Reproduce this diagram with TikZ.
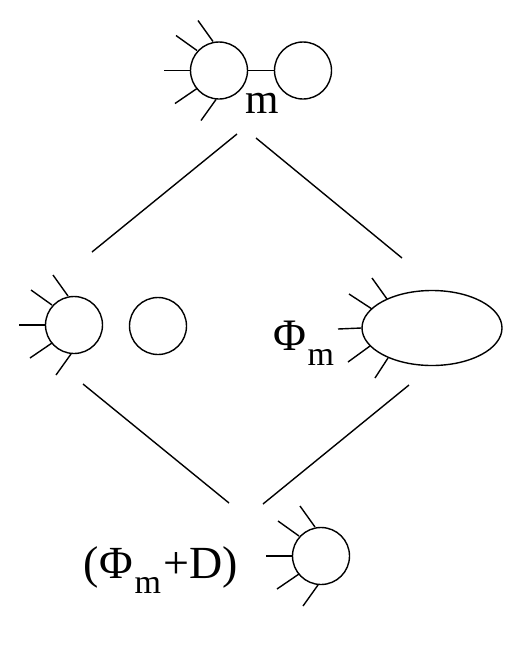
\documentclass[tikz,border=0pt]{standalone}
\usepackage{fontspec}
\setmainfont{Liberation Serif}
\usetikzlibrary{shapes.geometric}
\begin{document}
\begin{tikzpicture}[x=1pt,y=-1pt,line width=1.4pt,
  lbl/.style={inner sep=0pt,anchor=base west,font=\fontsize{45}{52}\selectfont},
  ring/.style={draw,circle,minimum size=57pt,inner sep=0pt},
  leg/.style={line width=1.4pt}]
\useasboundingbox (0,0) rectangle (513,649);
\newcommand{\legsat}[2]{%
  \draw[leg] (#1-29,#2) -- (#1-55,#2);
  \draw[leg] (#1-22,#2-20) -- (#1-43,#2-35);
  \draw[leg] (#1-6,#2-29) -- (#1-21,#2-50);
  \draw[leg] (#1-22,#2+18) -- (#1-44,#2+33);
  \draw[leg] (#1-3,#2+29) -- (#1-18,#2+50);}
\newcommand{\subm}{\raisebox{-15pt}{\fontsize{34}{40}\selectfont m}}
% top
\node[ring] (tl) at (219,70.5) {};
\node[ring] (tr) at (303,70.5) {};
\draw (tl.east) -- (tr.west);
\legsat{219}{70.5}
\node[lbl,font=\fontsize{43}{50}\selectfont] (tm) at (245,113) {m};
% middle left
\node[ring] (ml) at (74,325) {};
\node[ring] (mr) at (158,326) {};
\legsat{74}{325}
% middle right
\node[draw,ellipse,minimum width=140pt,minimum height=75pt,inner sep=0pt] (el) at (432,328) {};
\draw (el.west) -- (338,329);
\draw (372,309) -- (349,294);
\draw (387,299) -- (372,278);
\draw (370,346) -- (348,362);
\draw (388,358) -- (375,378);
\node[lbl] (phi) at (273,350) {Φ\kern1pt\subm};
% bottom
\node[ring] (bc) at (321,556) {};
\legsat{321}{556}
\node[lbl,font=\fontsize{46}{52}\selectfont] (bt) at (83,578) {(\kern1ptΦ\kern1pt\subm\kern2pt+D)};
% connectors
\coordinate (a1) at (92,252); \coordinate (a2) at (237,134);
\coordinate (b1) at (256,138); \coordinate (b2) at (402,258);
\coordinate (c1) at (83,384); \coordinate (c2) at (229,503);
\coordinate (d1) at (263,504); \coordinate (d2) at (409,385);
\draw (a1) -- (a2);
\draw (b1) -- (b2);
\draw (c1) -- (c2);
\draw (d1) -- (d2);
\end{tikzpicture}
\end{document}
